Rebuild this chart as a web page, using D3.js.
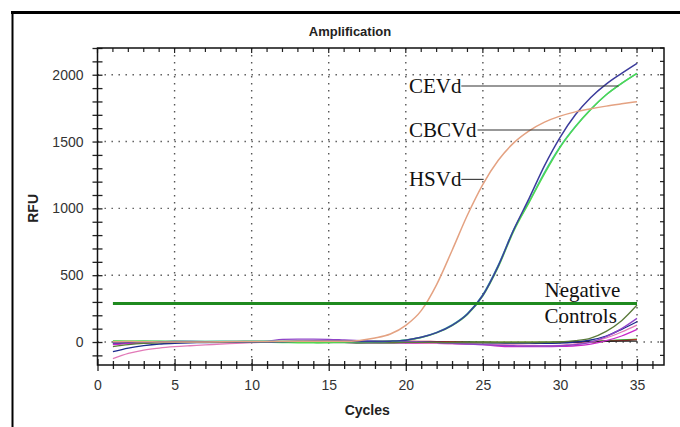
<!DOCTYPE html>
<html>
<head>
<meta charset="utf-8">
<script src="https://cdn.jsdelivr.net/npm/d3@7"></script>
<style>
  body { margin: 0; background: #fff; }
  svg { display: block; }
  .tick text { font-family: 'Liberation Sans', Arial, sans-serif; font-size: 14px; fill: #333; }
  .grid line { stroke: #555; stroke-width: 1.4; stroke-dasharray: 1.4 5.6; }
  .note { font-family: 'Liberation Serif', 'Times New Roman', serif; font-size: 21px; fill: #111; }
</style>
</head>
<body>
<script>
'use strict'

// cycle numbers and RFU readings
const cycles = d3.range(1, 36)
const hsvd = [2, 3, 2, 1, 0, 0, 1, 2, 3, 3, 4, 5, 6, 6, 5, 5, 12, 30, 60, 125, 235, 430, 685, 950, 1180, 1360, 1490, 1580, 1645, 1690, 1722, 1745, 1765, 1782, 1798]
const cevd = [-5, -2, 0, 2, 3, 3, 2, 2, 1, 0, 0, 2, 5, 8, 8, 6, 4, 3, 6, 14, 35, 70, 125, 210, 350, 570, 840, 1075, 1320, 1530, 1700, 1830, 1930, 2010, 2085]
const cbcvd = [8, 6, 5, 4, 3, 2, 2, 0, 0, 0, -2, -3, -5, -5, -3, 0, 2, 3, 6, 14, 33, 68, 123, 207, 346, 562, 830, 1045, 1260, 1455, 1610, 1740, 1850, 1935, 2010]
const cbcvdRep = [0, 2, 3, 4, 4, 4, 4, 5, 5, 5, 5, 5, 5, 4, 3, 3, 3, 3, 6, 15, 36, 72, 128, 214, 355, 575, 842, 1050, 1270, 1460, 1612, 1741, 1850, 1935, 2010]
const ncOlive = [-35, -20, -10, -5, -2, 0, 0, 0, 0, 0, 0, 2, 3, 3, 2, 0, -2, -3, -3, -2, -2, -3, -5, -5, -5, -5, -5, -5, -3, 0, 10, 30, 80, 160, 277]
const ncPurple = [-10, -5, -2, 0, 0, 0, 0, 0, 0, 0, 5, 20, 22, 22, 20, 15, 10, 8, 5, 5, 0, -5, -10, -15, -20, -25, -28, -30, -30, -28, -20, 0, 40, 100, 177]
const ncNavy = [-72, -45, -27, -15, -10, -6, -4, -2, -1, 0, 0, 0, 0, 2, 3, 3, 3, 3, 3, 3, 0, -3, -5, -5, -5, -7, -8, -9, -10, -8, 0, 15, 45, 95, 152]
const ncPink = [-125, -85, -60, -45, -35, -28, -22, -15, -10, -5, -2, 0, 0, 0, -2, -3, -3, -5, -5, -5, -8, -10, -12, -15, -18, -20, -22, -25, -28, -25, -15, 0, 30, 75, 127]
const ncMagenta = [-20, -10, -5, -2, 0, 0, 0, 0, 0, 0, 0, 0, 0, -2, -3, -3, -5, -5, -5, -8, -10, -10, -12, -15, -20, -30, -35, -35, -35, -33, -28, -15, 10, 45, 95]
const ncBlack = [-15, -8, -3, 0, 0, 0, 0, 0, 0, 0, 0, 0, 0, 0, 0, 0, 0, 0, -2, -2, -3, -3, -3, -3, -5, -5, -5, -5, -5, -3, 0, 2, 5, 6, 7]
const ncLightGreen = [5, 6, 6, 6, 5, 5, 5, 5, 5, 5, 5, 5, 5, 3, 3, 2, 0, -3, -5, -5, -5, -5, -3, -3, -2, 0, 0, 0, 0, 0, 2, 5, 10, 15, 22]
const ncDarkGreen = [0, 0, 2, 3, 3, 2, 2, 3, 3, 5, 5, 3, 0, -3, -5, -5, -8, -8, -8, -5, -3, 0, 0, 0, 0, -2, -3, -3, -3, -2, 0, 3, 8, 14, 20]
const ncRed = [0, 0, 0, 0, 0, 0, 0, 0, 0, 0, 0, 0, 0, 0, 0, 2, 3, 5, 6, 6, 5, 3, 0, -2, -3, -3, -3, -3, -3, -2, 0, 2, 5, 10, 18]
const threshold = 288

const xTicks = d3.range(0, 37)
const xLabels = d3.range(0, 36, 5)
const yTicks = d3.range(-100, 2201, 100)
const yLabels = d3.range(0, 2001, 500)

const series = [
  { values: ncLightGreen, color: '#7ee06a' },
  { values: ncDarkGreen, color: '#1e8c1e' },
  { values: ncRed, color: '#c03030' },
  { values: ncBlack, color: '#222222' },
  { values: ncMagenta, color: '#c828c8' },
  { values: ncPink, color: '#e27ab8' },
  { values: ncNavy, color: '#1c2a8c' },
  { values: ncPurple, color: '#8e44c8' },
  { values: ncOlive, color: '#5a7a3a' },
  { values: cbcvdRep, color: '#3cc0b4' },
  { values: cbcvd, color: '#50d850' },
  { values: cevd, color: '#3c3c9c' },
  { values: hsvd, color: '#e4a282' }
]

const notes = [
  { text: 'CEVd', cycle: 20.2, rfu: 1916, lineFrom: 23.6, lineTo: 33.8 },
  { text: 'CBCVd', cycle: 20.2, rfu: 1586, lineFrom: 24.65, lineTo: 30.1 },
  { text: 'HSVd', cycle: 20.2, rfu: 1217, lineFrom: 23.6, lineTo: 25.05 }
]

const width = 680
const height = 427
const margin = { top: 48, right: 16, bottom: 62, left: 97.5 }
const panelW = width - margin.left - margin.right
const panelH = height - margin.top - margin.bottom

const svg = d3.select('body').append('svg')
  .attr('width', width)
  .attr('height', height)

// outer window border (top and left edges)
svg.append('line').attr('x1', 11).attr('x2', width).attr('y1', 12.5).attr('y2', 12.5)
  .attr('stroke', '#000').attr('stroke-width', 3)
svg.append('line').attr('x1', 12.5).attr('x2', 12.5).attr('y1', 11).attr('y2', height)
  .attr('stroke', '#000').attr('stroke-width', 2)

const x = d3.scaleLinear().domain([0, 36.75]).range([0, panelW])
const y = d3.scaleLinear().domain([-172, 2200]).range([panelH, 0])

const plot = svg.append('g')
  .attr('transform', 'translate(' + margin.left + ',' + margin.top + ')')

plot.append('clipPath').attr('id', 'clip')
  .append('rect').attr('width', panelW).attr('height', panelH)

// dotted grid
const grid = plot.append('g').attr('class', 'grid')
grid.selectAll('.gx').data(xLabels.slice(1)).enter().append('line')
  .attr('x1', d => x(d)).attr('x2', d => x(d))
  .attr('y1', 0).attr('y2', panelH)
grid.selectAll('.gy').data(yLabels).enter().append('line')
  .attr('x1', 0).attr('x2', panelW)
  .attr('y1', d => y(d)).attr('y2', d => y(d))

// curves
const line = d3.line()
  .x((d, i) => x(cycles[i]))
  .y(d => y(d))
  .curve(d3.curveMonotoneX)
const curves = plot.append('g').attr('clip-path', 'url(#clip)')
curves.selectAll('path').data(series).enter().append('path')
  .attr('d', d => line(d.values))
  .attr('fill', 'none')
  .attr('stroke', d => d.color)
  .attr('stroke-width', (d, i) => i >= 9 ? 1.5 : 1.3)

// threshold
plot.append('line')
  .attr('x1', x(1)).attr('x2', x(35))
  .attr('y1', y(threshold)).attr('y2', y(threshold))
  .attr('stroke', '#1f8a1f').attr('stroke-width', 3)

// axes
const axisY = d3.axisLeft(y).tickValues(yTicks).tickSize(5).tickPadding(9)
  .tickFormat(d => yLabels.includes(d) ? d : '')
const gy = plot.append('g').call(axisY)
gy.selectAll('.tick line').attr('x2', -5).attr('x1', 5).attr('stroke', '#222').attr('stroke-width', 1.3)
gy.select('.domain').remove()

const axisX = d3.axisBottom(x).tickValues(xTicks).tickSize(5).tickPadding(10)
  .tickFormat(d => xLabels.includes(d) ? d : '')
const gx = plot.append('g').attr('transform', 'translate(0,' + panelH + ')').call(axisX)
gx.selectAll('.tick line')
  .attr('y1', d => xLabels.includes(d) ? -6 : -4)
  .attr('y2', d => xLabels.includes(d) ? 6 : 4)
  .attr('stroke', '#222').attr('stroke-width', 1.3)
gx.select('.domain').remove()

// inward ticks on top and right edges
plot.append('g').selectAll('line').data(xTicks).enter().append('line')
  .attr('x1', d => x(d)).attr('x2', d => x(d))
  .attr('y1', 0).attr('y2', d => xLabels.includes(d) ? 5 : 4)
  .attr('stroke', '#222').attr('stroke-width', 1.2)
plot.append('g').selectAll('line').data(yTicks).enter().append('line')
  .attr('x1', panelW).attr('x2', panelW - 4)
  .attr('y1', d => y(d)).attr('y2', d => y(d))
  .attr('stroke', '#222').attr('stroke-width', 1.2)

// panel frame
plot.append('rect')
  .attr('width', panelW).attr('height', panelH)
  .attr('fill', 'none').attr('stroke', '#111').attr('stroke-width', 1.5)

// annotations
const noteG = plot.append('g')
noteG.selectAll('text').data(notes).enter().append('text')
  .attr('class', 'note')
  .attr('x', d => x(d.cycle))
  .attr('y', d => y(d.rfu) + 7)
  .text(d => d.text)
noteG.selectAll('line').data(notes).enter().append('line')
  .attr('x1', d => x(d.lineFrom)).attr('x2', d => x(d.lineTo))
  .attr('y1', d => y(d.rfu)).attr('y2', d => y(d.rfu))
  .attr('stroke', '#333').attr('stroke-width', 1.1)
plot.append('text').attr('class', 'note')
  .attr('x', x(29)).attr('y', y(338)).text('Negative')
plot.append('text').attr('class', 'note')
  .attr('x', x(29)).attr('y', y(142)).text('Controls')

// titles
svg.append('text')
  .attr('x', 350).attr('y', 36)
  .attr('text-anchor', 'middle')
  .style('font-family', "'Liberation Sans', Arial, sans-serif")
  .style('font-size', '13px').style('font-weight', 'bold').style('fill', '#222')
  .text('Amplification')
svg.append('text')
  .attr('x', margin.left + x(17.5)).attr('y', 415)
  .attr('text-anchor', 'middle')
  .style('font-family', "'Liberation Sans', Arial, sans-serif")
  .style('font-size', '14px').style('font-weight', 'bold').style('fill', '#222')
  .text('Cycles')
svg.append('text')
  .attr('transform', 'translate(38,' + (margin.top + y(1000)) + ') rotate(-90)')
  .attr('text-anchor', 'middle')
  .style('font-family', "'Liberation Sans', Arial, sans-serif")
  .style('font-size', '14px').style('font-weight', 'bold').style('fill', '#222')
  .text('RFU')
</script>
</body>
</html>
